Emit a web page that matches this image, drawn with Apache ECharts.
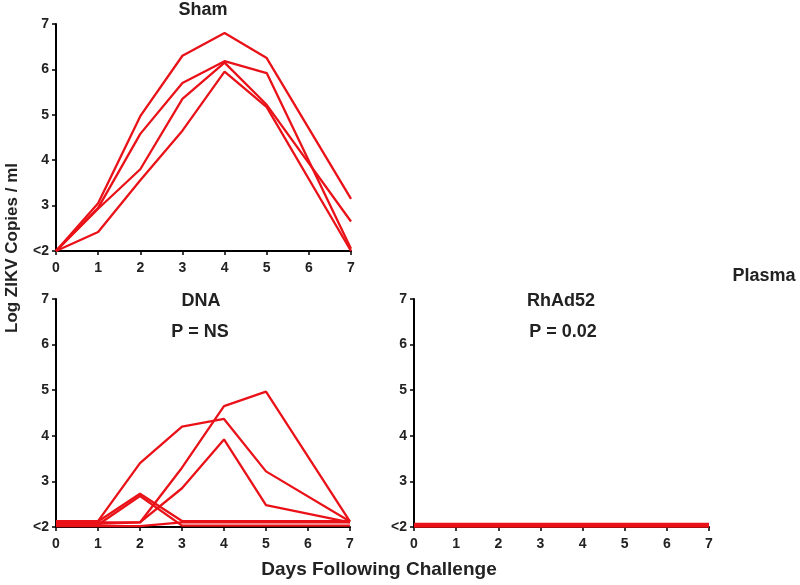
<!DOCTYPE html>
<html>
<head>
<meta charset="utf-8">
<script src="https://cdn.jsdelivr.net/npm/echarts@6/dist/echarts.min.js"></script>
<style>
html,body{margin:0;padding:0;background:#fff;}
#chart{width:800px;height:585px;}
</style>
</head>
<body>
<div id="chart"></div>
<script>
// ---- data ----
const days = [0, 1, 2, 3, 4, 5, 6, 7];
const yTicks = ['<2', '3', '4', '5', '6', '7'];

// Sham (day 6 not measured -> null)
const sham1 = [2.0, 3.05, 4.97, 6.3, 6.8, 6.25, null, 3.15];
const sham2 = [2.0, 2.95, 4.58, 5.7, 6.18, 5.92, null, 2.05];
const sham3 = [2.0, 2.93, 3.8, 5.35, 6.15, 5.22, null, 2.65];
const sham4 = [2.0, 2.42, 3.56, 4.65, 5.95, 5.17, null, 2.0];

// DNA
const dna1 = [2.13, 2.13, 3.4, 4.2, 4.37, 3.22, null, 2.12];
const dna2 = [2.1, 2.1, 2.1, 3.3, 4.65, 4.97, null, 2.12];
const dna3 = [2.07, 2.07, 2.1, 2.85, 3.92, 2.48, null, 2.1];
const dna4 = [2.12, 2.12, 2.73, 2.13, 2.13, 2.13, null, 2.13];
const dna5 = [2.05, 2.05, 2.68, 2.03, 2.03, 2.03, null, 2.03];
const dna6 = [2.02, 2.02, 2.02, 2.1, 2.1, 2.1, null, 2.1];

// RhAd52
const rh1 = [2.01, 2.01, 2.01, 2.01, 2.01, 2.01, null, 2.01];
const rh2 = [2.04, 2.04, 2.04, 2.04, 2.04, 2.04, null, 2.04];
const rh3 = [2.07, 2.07, 2.07, 2.07, 2.07, 2.07, null, 2.07];

const panels = [
  { name: 'Sham', series: [sham1, sham2, sham3, sham4] },
  { name: 'DNA', series: [dna1, dna2, dna3, dna4, dna5, dna6] },
  { name: 'RhAd52', series: [rh1, rh2, rh3] }
];

// ---- chart ----
const RED = '#ea1219';
const FONT = 'Liberation Sans, Arial, sans-serif';
const grids = [
  { left: 56, top: 24, width: 295, height: 227 },
  { left: 56, top: 299, width: 294, height: 228 },
  { left: 414, top: 299, width: 295, height: 228 }
];

function pairs(arr) {
  const out = [];
  arr.forEach((v, i) => { if (v !== null) out.push([days[i], v]); });
  return out;
}

const xAxes = [], yAxes = [], series = [];
grids.forEach((g, gi) => {
  xAxes.push({
    type: 'value', gridIndex: gi, min: 0, max: 7, interval: 1,
    axisLine: { lineStyle: { color: '#000', width: 2 } },
    axisTick: { show: true, length: 4, lineStyle: { color: '#000', width: 1.5 } },
    axisLabel: { color: '#222', fontWeight: 'bold', fontSize: 14, fontFamily: FONT, margin: 10 },
    splitLine: { show: false }
  });
  yAxes.push({
    type: 'value', gridIndex: gi, min: 2, max: 7, interval: 1,
    axisLine: { show: true, lineStyle: { color: '#000', width: 2 } },
    axisTick: { show: true, length: 4, lineStyle: { color: '#000', width: 1.5 } },
    axisLabel: { color: '#222', fontWeight: 'bold', fontSize: 14, fontFamily: FONT, margin: 7,
      formatter: v => yTicks[Math.round(v) - 2] },
    splitLine: { show: false }
  });
  panels[gi].series.forEach(arr => {
    series.push({
      type: 'line', xAxisIndex: gi, yAxisIndex: gi, data: pairs(arr),
      symbol: 'none', lineStyle: { color: RED, width: 2.3 }, z: 1, silent: true
    });
  });
});

function txt(text, x, y, size, rot) {
  return {
    type: 'text', x: x, y: y, rotation: rot || 0,
    style: { text: text, font: 'bold ' + size + 'px ' + FONT, fill: '#222',
      textAlign: 'center', textVerticalAlign: 'middle' }
  };
}

const chart = echarts.init(document.getElementById('chart'));
chart.setOption({
  animation: false,
  backgroundColor: '#fff',
  grid: grids,
  xAxis: xAxes,
  yAxis: yAxes,
  series: series,
  graphic: [
    txt('Sham', 203, 10, 18),
    txt('DNA', 201, 301, 18),
    txt('P = NS', 200, 332, 18),
    txt('RhAd52', 561, 301, 18),
    txt('P = 0.02', 563, 332, 18),
    txt('Plasma', 764, 276, 18),
    txt('Days Following Challenge', 379, 570, 19),
    txt('Log ZIKV Copies / ml', 12, 248, 17, Math.PI / 2)
  ]
});
</script>
</body>
</html>
